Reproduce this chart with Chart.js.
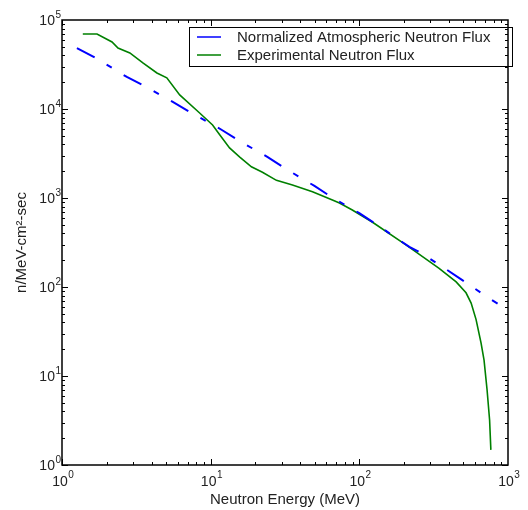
<!DOCTYPE html>
<html>
<head>
<meta charset="utf-8">
<script src="https://cdn.jsdelivr.net/npm/chart.js@4.4.0/dist/chart.umd.min.js"></script>
<style>
    html, body { margin: 0; padding: 0; background: #fff; }
    #wrap { width: 528px; height: 510px; }
</style>
</head>
<body>
<div id="wrap"><canvas id="chart" width="528" height="510"></canvas></div>
<script>
// --- DATA ---
const atmEnergy = [1.26, 1.69, 2.73, 3.61, 5.56, 7.45, 11.9, 15.2, 24.2, 31.4, 49.9, 64.9, 100, 132, 217, 261, 384, 490, 745, 851];
const atmFlux = [48400, 37400, 22900, 18100, 12000, 9020, 5810, 4490, 2880, 2170, 1365, 1026, 676, 498, 282, 240, 158, 120, 75, 65];

const expEnergy = [1.38, 1.72, 2.17, 2.38, 2.86, 3.5, 4.35, 5.07, 6.19, 8.43, 10.3, 11.5, 13.4, 15.7, 18.8, 22.3, 27.7, 35.5, 48.4, 65.9, 73.5, 89.7, 122, 207, 344, 448, 522, 565, 610, 659, 690, 723, 752, 767];
const expFlux = [69700, 69700, 56600, 48400, 42700, 32900, 25400, 22400, 14400, 9020, 6610, 5130, 3650, 2880, 2240, 1950, 1580, 1400, 1175, 950, 880, 733, 537, 295, 162, 114, 86, 66, 43, 23.4, 15.1, 7.0, 3.2, 1.48];

const seriesNames = ['Normalized Atmospheric Neutron Flux', 'Experimental Neutron Flux'];
const xTickValues = [1, 10, 100, 1000];
const yTickValues = [1, 10, 100, 1000, 10000, 100000];

const BLUE = '#0000ff';
const GREEN = 'rgb(0,128,0)';
const TEXT = '#222';
const FONT = '"Liberation Sans", Arial, sans-serif';

function toPoints(xs, ys) {
    return xs.map((x, i) => ({ x: x, y: ys[i] }));
}

// "10" with a raised exponent, drawn left-aligned from x0
function drawPow(ctx, v, x0, yBase, yExp) {
    const e = String(Math.round(Math.log10(v)));
    ctx.font = '14px ' + FONT;
    ctx.fillText('10', x0, yBase);
    const w = ctx.measureText('10').width;
    ctx.font = '10px ' + FONT;
    ctx.fillText(e, x0 + w + 0.5, yExp);
}

function powWidth(ctx, v) {
    const e = String(Math.round(Math.log10(v)));
    ctx.font = '14px ' + FONT;
    const w1 = ctx.measureText('10').width;
    ctx.font = '10px ' + FONT;
    return w1 + 0.5 + ctx.measureText(e).width;
}

// frame, inward ticks on all four sides, tick labels, legend box
const framePlugin = {
    id: 'frame',
    afterDatasetsDraw(chart) {
        const { ctx, chartArea: a, scales } = chart;
        const x = scales.x, y = scales.y;
        ctx.save();

        // legend
        const lx = 189, ly = 27, lw = 323, lh = 39;
        ctx.fillStyle = '#fff';
        ctx.fillRect(lx, ly, lw, lh);
        ctx.strokeStyle = '#000';
        ctx.lineWidth = 1;
        ctx.strokeRect(lx + 0.5, ly + 0.5, lw, lh);
        const colors = [BLUE, GREEN];
        ctx.font = '15px ' + FONT;
        ctx.textBaseline = 'middle';
        seriesNames.forEach((name, i) => {
            const yy = 37 + i * 18;
            ctx.strokeStyle = colors[i];
            ctx.lineWidth = 1.5;
            ctx.beginPath();
            ctx.moveTo(197, yy);
            ctx.lineTo(221, yy);
            ctx.stroke();
            ctx.fillStyle = TEXT;
            ctx.fillText(name, 237, yy + 1);
        });

        // tick labels
        ctx.fillStyle = TEXT;
        ctx.textAlign = 'left';
        ctx.textBaseline = 'middle';
        xTickValues.forEach((v) => {
            const px = x.getPixelForValue(v);
            const w = powWidth(ctx, v);
            drawPow(ctx, v, px + 1 - w / 2, a.bottom + 17, a.bottom + 10);
        });
        yTickValues.forEach((v) => {
            const py = y.getPixelForValue(v);
            const w = powWidth(ctx, v);
            drawPow(ctx, v, 61 - w, py + 1, py - 5);
        });

        // ticks
        ctx.strokeStyle = '#000';
        ctx.lineWidth = 1;
        ctx.beginPath();
        for (let d = 0; d < 3; d++) {
            for (let m = 1; m <= 9; m++) {
                const px = Math.round(x.getPixelForValue(m * 10 ** d)) + 0.5;
                const len = m === 1 ? 6 : 3;
                ctx.moveTo(px, a.bottom); ctx.lineTo(px, a.bottom - len);
                ctx.moveTo(px, a.top); ctx.lineTo(px, a.top + len);
            }
        }
        for (let d = 0; d < 5; d++) {
            for (let m = 1; m <= 9; m++) {
                const py = Math.round(y.getPixelForValue(m * 10 ** d)) + 0.5;
                const len = m === 1 ? 6 : 3;
                ctx.moveTo(a.left, py); ctx.lineTo(a.left + len, py);
                ctx.moveTo(a.right, py); ctx.lineTo(a.right - len, py);
            }
        }
        ctx.stroke();

        // frame
        ctx.lineWidth = 1.5;
        ctx.strokeRect(a.left, a.top, a.right - a.left, a.bottom - a.top);
        ctx.restore();
    }
};

const ctx = document.getElementById('chart').getContext('2d');
new Chart(ctx, {
    type: 'scatter',
    data: {
        datasets: [
            {
                label: seriesNames[0],
                data: toPoints(atmEnergy, atmFlux),
                showLine: true,
                borderColor: BLUE,
                borderWidth: 2,
                borderDash: [20, 14, 6, 14],
                pointRadius: 0,
                tension: 0,
            },
            {
                label: seriesNames[1],
                data: toPoints(expEnergy, expFlux),
                showLine: true,
                borderColor: GREEN,
                borderWidth: 1.6,
                pointRadius: 0,
                tension: 0,
            },
        ],
    },
    options: {
        responsive: false,
        animation: false,
        devicePixelRatio: 1,
        layout: { padding: { top: 20, right: 20, left: 0, bottom: 0 } },
        plugins: {
            legend: { display: false },
            tooltip: { enabled: false },
        },
        scales: {
            x: {
                type: 'logarithmic',
                position: 'bottom',
                min: 1,
                max: 1000,
                grid: { display: false, drawTicks: false },
                border: { display: false },
                afterFit: (s) => { s.height = 45; },
                ticks: { display: false },
                title: {
                    display: true,
                    text: 'Neutron Energy (MeV)',
                    color: TEXT,
                    font: { family: FONT, size: 15 },
                    padding: { top: 0, bottom: 1 },
                },
            },
            y: {
                type: 'logarithmic',
                position: 'left',
                min: 1,
                max: 100000,
                grid: { display: false, drawTicks: false },
                border: { display: false },
                afterFit: (s) => { s.width = 62; },
                ticks: { display: false },
                title: {
                    display: true,
                    text: 'n/MeV-cm²-sec',
                    color: TEXT,
                    font: { family: FONT, size: 15 },
                    padding: { top: 13, bottom: 0 },
                },
            },
        },
    },
    plugins: [framePlugin],
});
</script>
</body>
</html>
